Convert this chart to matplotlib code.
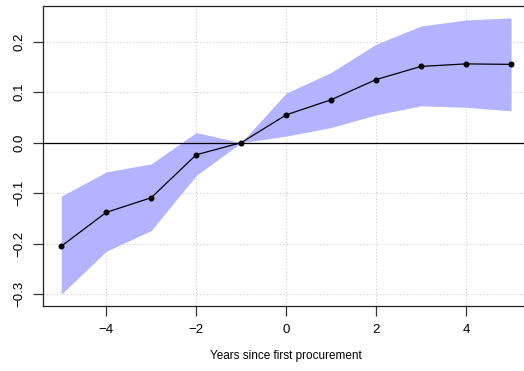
import numpy as np
import matplotlib
matplotlib.use("Agg")
from matplotlib import pyplot as plt

plt.rcParams['font.family'] = ['Liberation Sans', 'DejaVu Sans']

# event-time estimates with confidence band
years = [-5, -4, -3, -2, -1, 0, 1, 2, 3, 4, 5]
est = [-0.205, -0.138, -0.109, -0.024, 0.0, 0.055, 0.085, 0.125, 0.151, 0.156, 0.155]
upper = [-0.106, -0.058, -0.042, 0.020, 0.0, 0.098, 0.139, 0.195, 0.231, 0.243, 0.247]
lower = [-0.300, -0.215, -0.174, -0.065, 0.0, 0.013, 0.030, 0.055, 0.073, 0.070, 0.063]

xticks = [-4, -2, 0, 2, 4]
yticks = [-0.3, -0.2, -0.1, 0.0, 0.1, 0.2]

fig = plt.figure(figsize=(5.24, 3.71), dpi=100)
ax = fig.add_axes([0.0826, 0.1752, 0.927, 0.8078])

# dotted grid first, then band, line and points
for xt in xticks:
    ax.axvline(xt, color='#cccccc', lw=0.8, ls=(0, (1, 2)), zorder=0)
for yt in yticks:
    ax.axhline(yt, color='#cccccc', lw=0.8, ls=(0, (1, 2)), zorder=0)

ax.fill_between(years, lower, upper, color='#b3b3ff', lw=0, zorder=1)
ax.axhline(0, color='black', lw=0.9, zorder=2)
ax.plot(years, est, color='black', lw=0.9, zorder=3)
ax.plot(years, est, 'o', color='black', ms=3.3, zorder=4)

ax.set_xlim(-5.4, 5.4)
ax.set_ylim(-0.3234, 0.270)
ax.set_xticks(xticks)
ax.set_xticklabels(['\u22124', '\u22122', '0', '2', '4'])
ax.set_yticks(yticks)
ax.set_yticklabels(['\u22120.3', '\u22120.2', '\u22120.1', '0.0', '0.1', '0.2'],
                   rotation=90, va='center')

ax.tick_params(axis='both', length=7, width=0.9, color='#333333', labelsize=9.5)
ax.tick_params(axis='x', pad=6)
ax.tick_params(axis='y', pad=6)
for side in ['left', 'bottom', 'top']:
    ax.spines[side].set_linewidth(0.9)
    ax.spines[side].set_color('#222222')
ax.spines['right'].set_visible(False)

fig.text(286 / 524, 1 - 356.5 / 371, 'Years since first procurement',
         ha='center', va='center', fontsize=8.5)

fig.savefig('out.png', dpi=100)
